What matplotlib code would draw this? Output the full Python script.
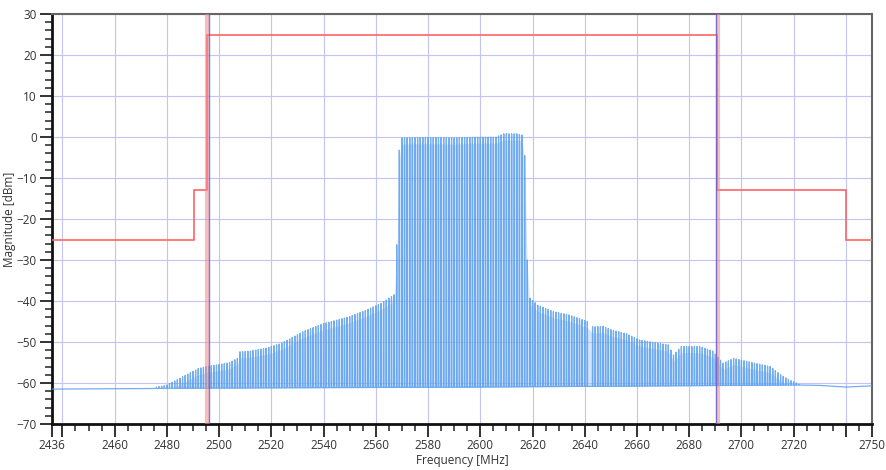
import numpy as np
import matplotlib
matplotlib.use("Agg")
import matplotlib.pyplot as plt
from matplotlib.ticker import MultipleLocator, FixedLocator

# spectrum envelope (top of comb lines)
env_freq = [2476, 2480, 2486, 2492, 2495, 2500, 2504, 2507, 2508, 2512, 2518, 2524,
            2532, 2540, 2546, 2550, 2556, 2562, 2567, 2568, 2569, 2570, 2580, 2590,
            2600, 2606, 2609, 2614, 2616, 2617, 2618, 2619, 2622, 2628, 2634, 2641,
            2643, 2647, 2650, 2656, 2661, 2668, 2672, 2674, 2677, 2684, 2689, 2693,
            2697, 2704, 2711, 2715, 2718.5, 2722]
env_top = [-61, -60.5, -58.5, -56.5, -56, -55.5, -55, -54, -52.4, -52.2, -51.5, -50.3,
           -47.5, -45.5, -44.5, -43.8, -42.3, -40.6, -38.5, -26.3, -3.2, -0.2, -0.1, -0.2,
           0.0, 0.0, 0.8, 0.8, 0.5, -4.5, -30, -39.3, -41, -42.6, -43.4, -45,
           -46.3, -46.2, -47, -48, -49.5, -50.3, -50.7, -53.2, -51.1, -51.1, -52.2, -55.2,
           -54, -55, -56, -58, -59.3, -60.3]

# noise floor
floor_freq = [2436, 2450, 2460, 2470, 2478, 2600, 2722, 2730, 2740, 2750]
floor_db = [-61.5, -61.6, -61.5, -61.5, -61.3, -61.0, -60.5, -60.6, -61.0, -60.7]

# comb line positions (about 1 MHz apart) and missing lines
comb_start, comb_stop, comb_step = 2476, 2722, 1.0
missing = [2642]

# spectrum mask
mask_edges = [2436, 2490.5, 2495.5, 2690.8, 2740, 2750]
mask_levels = [-25, -13, 25, -13, -25]

# marker lines
pink_markers = [2495.5, 2690.9]
blue_markers = [2496.1, 2690.2]

xtick_pos = [2436, 2440, 2460, 2480, 2500, 2520, 2540, 2560, 2580, 2600, 2620,
             2640, 2660, 2680, 2700, 2720, 2740, 2750]
xtick_lab = ["2436", "", "2460", "2480", "2500", "2520", "2540", "2560", "2580", "2600",
             "2620", "2640", "2660", "2680", "2700", "2720", "", "2750"]

plt.rcParams['font.family'] = ['Open Sans', 'DejaVu Sans']

fig = plt.figure(figsize=(8.87, 4.70), dpi=100)
ax = fig.add_axes([0.0586, 0.098, 0.9245, 0.872])

# build the comb trace
teeth = np.arange(comb_start, comb_stop + 0.01, comb_step)
teeth = np.array([t for t in teeth if t not in missing])
tops = np.interp(teeth, env_freq, env_top)
bots = np.interp(teeth, floor_freq, floor_db)
xs, ys = [floor_freq[0], comb_start - 1], [floor_db[0], np.interp(comb_start - 1, floor_freq, floor_db)]
for t, top, bot in zip(teeth, tops, bots):
    xs += [t - 0.08, t, t + 0.08]
    ys += [bot, top, bot]
xs += [comb_stop + 1, 2730, 2740, floor_freq[-1]]
ys += list(np.interp([comb_stop + 1, 2730, 2740, floor_freq[-1]], floor_freq, floor_db))

fine = np.linspace(comb_start + 2, comb_stop - 1, 600)
ax.fill_between(fine, np.interp(fine, floor_freq, floor_db),
                np.maximum(np.interp(fine, env_freq, env_top) - 1.5, np.interp(fine, floor_freq, floor_db)),
                color='#9cc4f5', alpha=0.45, lw=0, zorder=2)
ax.plot(xs, ys, color='#5a9ff0', lw=0.9, alpha=0.85, zorder=3)

ax.stairs(mask_levels, mask_edges, baseline=None, color='#ff6464', lw=1.2, zorder=4)
for m in pink_markers:
    ax.axvline(m, color='#f08a8a', lw=3, alpha=0.55, zorder=4)
for m in blue_markers:
    ax.axvline(m, color='#5b5bd0', lw=1, alpha=0.8, zorder=4)

ax.set_xlim(2436, 2750)
ax.set_ylim(-70, 30)
ax.xaxis.set_major_locator(FixedLocator(xtick_pos))
ax.set_xticklabels(xtick_lab)
ax.xaxis.set_minor_locator(MultipleLocator(5))
ax.yaxis.set_major_locator(MultipleLocator(10))
ax.yaxis.set_minor_locator(MultipleLocator(2))

ax.grid(True, which='major', color='#c4c4f2', lw=0.8, zorder=1)
ax.set_axisbelow(True)

ax.tick_params(which='major', length=9, width=1.3, color='#222222', labelsize=8.5,
               labelcolor='#333333', pad=2)
ax.tick_params(which='minor', length=5, width=1.1, color='#222222')

for s in ['left', 'bottom']:
    ax.spines[s].set_color('#111111')
    ax.spines[s].set_linewidth(2)
for s in ['top', 'right']:
    ax.spines[s].set_color('#666666')
    ax.spines[s].set_linewidth(1.5)

ax.set_xlabel('Frequency [MHz]', fontsize=8.5, color='#333333', labelpad=1)
ax.set_ylabel('Magnitude [dBm]', fontsize=8.5, color='#333333', labelpad=0)

fig.savefig('out.png', dpi=100)
